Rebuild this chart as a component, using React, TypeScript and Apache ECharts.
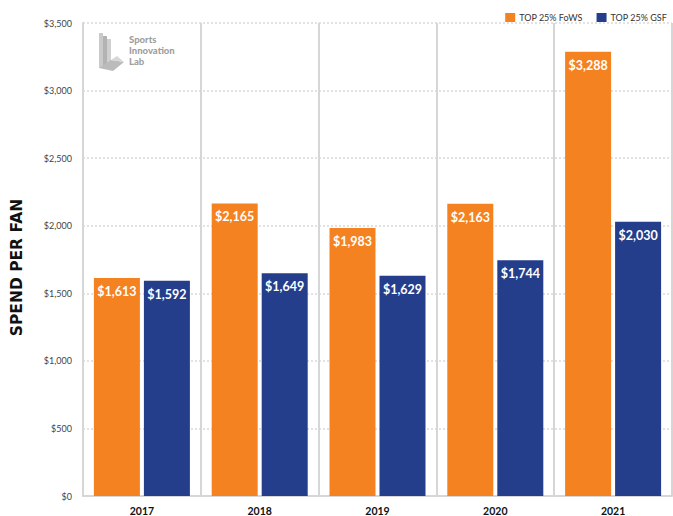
import React, { useEffect, useRef } from "react";
import * as echarts from "echarts";

const categories = ["2017", "2018", "2019", "2020", "2021"];
const fowsValues = [1613, 2165, 1983, 2163, 3288];
const gsfValues = [1592, 1649, 1629, 1744, 2030];
const seriesNames = ["TOP 25% FoWS", "TOP 25% GSF"];
const yTicks = { min: 0, max: 3500, interval: 500 };
const axisTitle = "SPEND PER FAN";
const chartTitle = "Spend Per Fan: FoWS vs. GSF Over Time";
const logoLabel = "Sports\nInnovation\nLab";

const ORANGE = "#F58221";
const BLUE = "#243E8C";
const FONT = "Lato";

function money(v: number) {
  return "$" + v.toLocaleString("en-US");
}

export default function App() {
  const ref = useRef<HTMLDivElement>(null);
  useEffect(() => {
    if (!ref.current) return;
    const chart = echarts.init(ref.current, undefined, { renderer: "svg" });
    const labelStyle = {
      show: true,
      position: "insideTop" as const,
      distance: 7,
      color: "#fff",
      fontWeight: "bold" as const,
      fontSize: 12.5,
      fontFamily: FONT,
      formatter: (p: any) => money(p.value),
    };
    chart.setOption({
      animation: false,
      textStyle: { fontFamily: FONT },
      legend: {
        right: 1,
        top: 8,
        itemWidth: 10,
        itemHeight: 9,
        itemGap: 14,
        icon: "rect",
        textStyle: { fontSize: 9, color: "#333", fontFamily: FONT, padding: [0, 0, 0, -1] },
        data: seriesNames,
      },
      grid: { left: 83, right: 1, top: 23, bottom: 19, containLabel: false },
      xAxis: {
        type: "category",
        data: categories,
        axisLine: { show: true, lineStyle: { color: "#d6d6d6", width: 2 } },
        axisTick: { show: false },
        splitLine: { show: true, lineStyle: { color: "#d6d6d6", width: 2 } },
        axisLabel: { color: "#111", fontWeight: "bold", fontSize: 10.5, margin: 9, fontFamily: FONT },
      },
      yAxis: {
        type: "value",
        min: yTicks.min,
        max: yTicks.max,
        interval: yTicks.interval,
        name: axisTitle,
        nameLocation: "middle",
        nameRotate: 90,
        nameGap: 58,
        nameTextStyle: { fontSize: 15.5, fontWeight: "bold", color: "#111", fontFamily: "'DejaVu Sans'", padding: [0, 16, 0, 0] },
        axisLine: { show: true, lineStyle: { color: "#d6d6d6", width: 2 } },
        axisTick: { show: false },
        splitLine: { show: true, lineStyle: { color: "#d9d9d9", type: [2, 2], width: 1.5 } },
        axisLabel: { color: "#444", fontSize: 9, margin: 11, fontFamily: FONT, formatter: (v: number) => money(v) },
      },
      graphic: [
        {
          type: "text",
          left: 38,
          top: -23,
          style: { text: chartTitle, fontSize: 21, fontWeight: "bold", fill: "#111", fontFamily: FONT },
          z: 10,
        },
        {
          type: "group",
          left: 99,
          top: 33,
          children: [
            { type: "rect", shape: { x: 0, y: 0, width: 4, height: 35 }, style: { fill: "#cacaca" } },
            { type: "rect", shape: { x: 4, y: 3, width: 4, height: 32 }, style: { fill: "#b3b3b3" } },
            { type: "rect", shape: { x: 8, y: 6, width: 4, height: 29 }, style: { fill: "#d0d0d0" } },
            { type: "polygon", shape: { points: [[0, 35], [12, 27], [25, 29], [14, 38]] }, style: { fill: "#bbbbbb" } },
            { type: "polygon", shape: { points: [[12, 27], [18, 23], [25, 29]] }, style: { fill: "#d6d6d6" } },
            {
              type: "text",
              x: 30,
              y: 1,
              style: { text: logoLabel, fontSize: 9.5, lineHeight: 11, fontWeight: 900, fill: "#9f9f9f", fontFamily: FONT },
            },
          ],
        },
      ],
      series: [
        {
          name: seriesNames[0],
          type: "bar",
          data: fowsValues,
          barWidth: 46,
          barGap: "8.7%",
          itemStyle: { color: ORANGE },
          label: labelStyle,
        },
        {
          name: seriesNames[1],
          type: "bar",
          data: gsfValues,
          barWidth: 46,
          barGap: "8.7%",
          itemStyle: { color: BLUE },
          label: labelStyle,
        },
      ],
    });
    return () => chart.dispose();
  }, []);
  return <div ref={ref} style={{ width: 673, height: 516, position: "absolute", left: 0, top: 0 }} />;
}
